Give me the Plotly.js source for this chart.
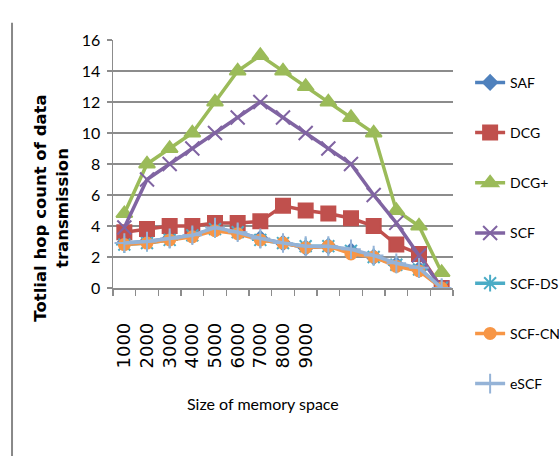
<!DOCTYPE html>
<html>
<head>
<meta charset="utf-8">
<script src="https://cdn.plot.ly/plotly-3.0.1.min.js"></script>
<style>html,body{margin:0;padding:0;background:#fff;}#chart{width:559px;height:456px;}</style>
</head>
<body>
<div id="chart"></div>
<script>
// Data
const pointIndex = [1,2,3,4,5,6,7,8,9,10,11,12,13,14,15];
const tickLabels = ['1000','2000','3000','4000','5000','6000','7000','8000','9000'];
const seriesNames = ['SAF','DCG','DCG+','SCF','SCF-DS','SCF-CN','eSCF'];
const saf    = [2.9,3.0,3.2,3.4,3.8,3.6,3.2,2.9,2.6,2.7,2.4,2.0,1.5,1.2,0];
const dcg    = [3.6,3.8,4.0,4.0,4.2,4.2,4.3,5.3,5.0,4.8,4.5,4.0,2.8,2.2,0];
const dcgPlus= [4.8,8,9,10,12,14,15,14,13,12,11,10,5,4,1];
const scf    = [3.9,7,8,9,10,11,12,11,10,9,8,6,4.2,2.1,0];
const scfDs  = [2.8,2.9,3.1,3.4,3.8,3.6,3.1,2.9,2.7,2.7,2.4,2.0,1.5,1.2,0];
const scfCn  = [2.8,2.9,3.1,3.3,3.7,3.5,3.1,2.9,2.6,2.7,2.2,2.0,1.4,1.1,0];
const escf   = [2.9,3.0,3.2,3.4,3.9,3.6,3.2,2.9,2.7,2.7,2.5,2.1,1.6,1.3,0];

const values = [saf, dcg, dcgPlus, scf, scfDs, scfCn, escf];
const colors = ['#4F81BD','#C0504D','#9BBB59','#8064A2','#4BACC6','#F79646','#95B3D7'];
const symbols = ['diamond','square','triangle-up','x-thin','asterisk','circle','cross-thin'];
const msizes = [11,14,14,14,14,11,14];

const traces = values.map((v,i)=>({
  x: pointIndex, y: v, name: seriesNames[i], type:'scatter', mode:'lines+markers',
  line:{color:colors[i], width:3.5},
  marker:{symbol:symbols[i], size:msizes[i], color:colors[i], line:{color:colors[i], width:2}},
  legendgroup: 'g'+i
}));

const boundaries = [];
for (let k=0;k<=pointIndex.length;k++) boundaries.push(pointIndex[0]-0.5+k);

const grid = '#8c8c8c';
const narrow = 'Lato, Liberation Sans, sans-serif';
const layout = {
  width:559, height:456,
  margin:{l:113, r:106, t:40, b:168, autoexpand:false},
  paper_bgcolor:'#fff', plot_bgcolor:'#fff',
  showlegend:true,
  legend:{xref:'container', x:0.841, xanchor:'left', y:0.892, yanchor:'top', tracegroupgap:29, maxheight:500,
    font:{family:narrow, size:14, color:'#000'},
    bgcolor:'rgba(0,0,0,0)'},
  xaxis:{range:[0.5,15.5], tickmode:'array', tickvals:pointIndex.slice(0,tickLabels.length), ticktext:tickLabels,
    tickangle:-90, ticks:'', showgrid:false, zeroline:false, showline:true, linecolor:grid, linewidth:1.5,
    ticklabelstandoff:26,
    tickfont:{family:'DejaVu Sans, sans-serif', size:18, color:'#000'},
    minor:{tickmode:'array', tickvals:boundaries, ticks:'outside', ticklen:6, tickcolor:grid, tickwidth:1.5, showgrid:false}},
  yaxis:{range:[0,16], dtick:2, tick0:0, showgrid:true, gridcolor:grid, gridwidth:1.5, zeroline:false,
    showline:true, linecolor:grid, linewidth:1.5, ticks:'outside', ticklen:5, tickcolor:grid, tickwidth:1.5,
    ticklabelstandoff:3,
    tickfont:{family:narrow, size:16, color:'#000'}},
  annotations:[
    {text:'<b>Totlial hop count of data<br>transmission</b>', textangle:-90, xref:'paper', yref:'paper',
     x:0, y:0.32, xanchor:'center', yanchor:'middle', xshift:-62, showarrow:false,
     font:{family:'DejaVu Sans, sans-serif', size:16.5, color:'#000'}},
    {text:'Size of memory space', xref:'paper', yref:'paper', x:0.44, y:0, yshift:-115,
     xanchor:'center', yanchor:'middle', showarrow:false,
     font:{family:narrow, size:16, color:'#000'}}
  ],
  shapes:[{type:'line', xref:'paper', yref:'paper', x0:-0.297, x1:-0.297, y0:1.07, y1:-0.7,
    line:{color:'#888', width:2}}]
};

Plotly.newPlot('chart', traces, layout, {displayModeBar:false, staticPlot:true});
</script>
</body>
</html>
